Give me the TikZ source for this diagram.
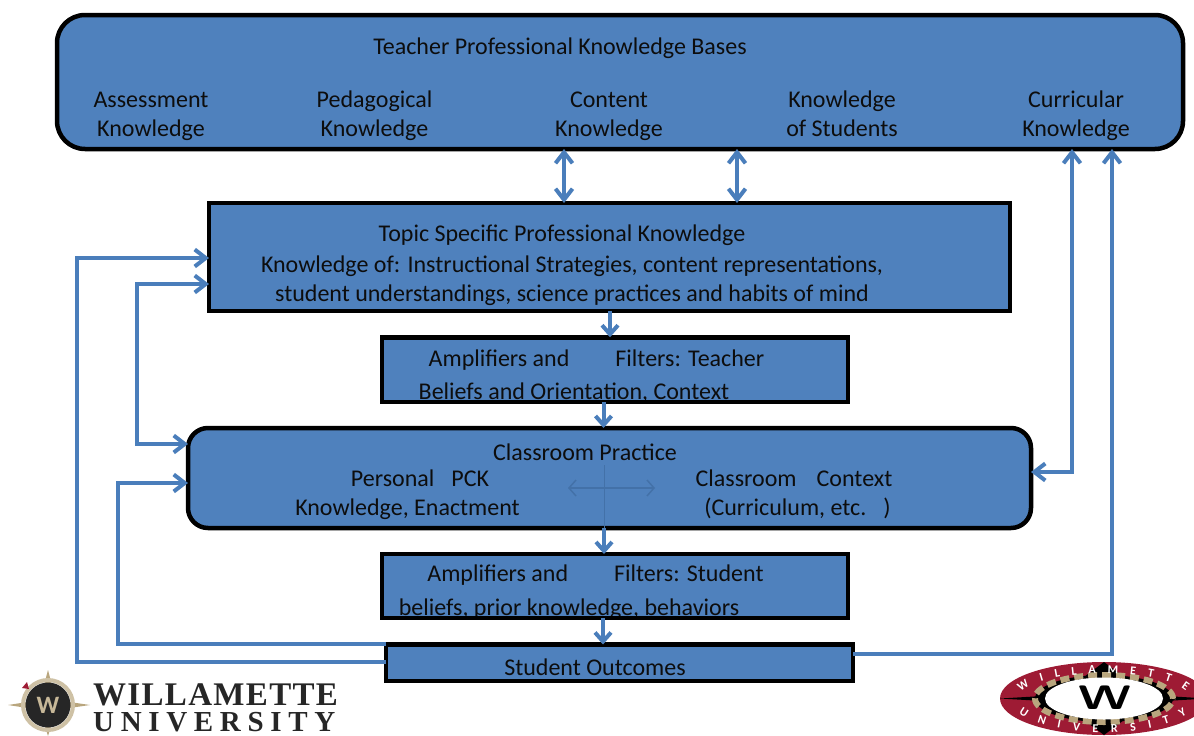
\documentclass[tikz,border=0pt]{standalone}
\usepackage{fontspec}
\setmainfont{Carlito}
\newfontfamily\wufont{Liberation Serif}
\usetikzlibrary{arrows.meta, shapes.geometric, decorations.text}
\definecolor{boxblue}{HTML}{4F81BD}
\definecolor{linkblue}{HTML}{4A7EBB}
\definecolor{wured}{HTML}{9E1B34}
\definecolor{wutan}{HTML}{B9A67E}
\tikzstyle{base} = [rectangle, draw=black, line width=4.5pt, fill=boxblue, inner sep=0pt, outer sep=0pt]
\tikzstyle{rbase} = [base, rounded corners=20pt]
\tikzstyle{txt} = [align=center, inner sep=0pt, text=black!95, font=\fontsize{24}{29}\selectfont, execute at begin node=\strut, execute at end node=\strut]
\tikzstyle{edge} = [draw=black, line width=4.5pt]
\tikzstyle{line} = [draw=linkblue, line width=4pt, -{Straight Barb[length=11pt,width=17pt]}]
\tikzstyle{dbl} = [line, {Straight Barb[length=11pt,width=17pt]}-{Straight Barb[length=11pt,width=17pt]}]
\tikzstyle{short} = [line, -{Straight Barb[length=9pt,width=16pt]}]

\begin{document}
\begin{tikzpicture}[x=1pt,y=-1pt]
  \useasboundingbox (0,0) rectangle (1194,736);
  % boxes
  \node (topbase) [rbase, rounded corners=28pt, minimum width=1126pt, minimum height=134pt] at (620,82) {};
  \node (tsk) [base, minimum width=801pt, minimum height=108pt] at (609.5,257) {};
  \node (ampa) [base, minimum width=466pt, minimum height=64.5pt] at (615,369.5) {};
  \node (practice) [rbase, minimum width=843pt, minimum height=100pt] at (609.5,478) {};
  \node (ampb) [base, minimum width=466pt, minimum height=64pt] at (615,586) {};
  \node (outcomes) [base, minimum width=467pt, minimum height=36.5pt] at (619.5,662.75) {};

  % texts
  \node (toptitle) [txt] at (560,49) {Teacher Professional Knowledge Bases};
  \node (assess) [txt] at (151,118.5) {Assessment\\Knowledge};
  \node (pedag) [txt] at (374.5,118.5) {Pedagogical\\Knowledge};
  \node (content) [txt] at (609,118.5) {Content\\Knowledge};
  \node (students) [txt] at (842,118.5) {Knowledge\\of Students};
  \node (curric) [txt] at (1076,118.5) {Curricular\\Knowledge};
  \node (tsktitle) [txt] at (562,236) {Topic Specific Professional Knowledge};
  \node (tsktext) [txt] at (572,283) {Knowledge of: Instructional Strategies, content representations,\\student understandings, science practices and habits of mind};
  \node (ampatext) [txt] at (596.5,360.2) {Amplifiers and\hspace{46pt}Filters: Teacher};
  \node (ampaline) [txt] at (574,393.5) {Beliefs and Orientation, Context};
  \node (practitle) [txt] at (585,454.5) {Classroom Practice};
  \node (pck) [txt] at (420,481) {Personal\hspace{17pt}PCK};
  \node (enact) [txt] at (407.5,510) {Knowledge, Enactment};
  \node (context) [txt] at (794,481) {Classroom\hspace{20pt}Context};
  \node (curriculum) [txt] at (797.5,510) {(Curriculum, etc.\hspace{17pt})};
  \node (ampbtext) [txt] at (595.5,575.5) {Amplifiers and\hspace{46pt}Filters: Student};
  \node (ampbline) [txt] at (569,610) {beliefs, prior knowledge, behaviors};
  \node (outtext) [txt] at (595,670) {Student Outcomes};

  % these two lines run under the lower edge of their box
  \draw [edge] (ampa.south west) -- (ampa.south east);
  \draw [edge] (ampb.south west) -- (ampb.south east);

  % faint cross inside classroom box
  \coordinate (crossl) at (568,488);
  \coordinate (crossr) at (655,488);
  \coordinate (crosst) at (604,465);
  \draw [draw=linkblue!90!black, line width=1.5pt, {Straight Barb[length=7pt,width=16pt]}-{Straight Barb[length=7pt,width=16pt]}] (crossl) -- (crossr);
  \draw [draw=linkblue!90!black, line width=1pt] (crosst) -- (crosst |- practice.south);

  % connectors
  \coordinate (axa) at (564,180);
  \coordinate (axb) at (737,180);
  \coordinate (axc) at (1072,300);
  \coordinate (axd) at (1112,300);
  \coordinate (axe) at (610,325);
  \coordinate (axf) at (603.5,415);
  \coordinate (axg) at (604,540);
  \coordinate (axh) at (603,632);
  \coordinate (axi) at (77,258);
  \coordinate (axj) at (118,483);
  \coordinate (axk) at (137,284);
  \coordinate (axl) at (137,444);
  \coordinate (axm) at (1072,472);
  \coordinate (axn) at (1112,654);
  \coordinate (axo) at (118,644);
  \coordinate (axp) at (77,662);
  \draw [dbl] (axa |- topbase.south) -- (axa |- tsk.north);
  \draw [dbl] (axb |- topbase.south) -- (axb |- tsk.north);
  \draw [dbl] (axc |- topbase.south) -- (axm) -- (axm -| practice.east);
  \draw [line] (axn -| outcomes.east) -- (axn) -- (axd |- topbase.south);
  \draw [short] (axe |- tsk.south) -- (axe |- ampa.north);
  \draw [short] (axf |- ampa.south) -- (axf |- practice.north);
  \draw [short] (axg |- practice.south) -- (axg |- ampb.north);
  \draw [short] (axh |- ampb.south) -- (axh |- outcomes.north);
  \draw [line] (axp -| outcomes.west) -- (axp) -- (axi) -- (axi -| tsk.west);
  \draw [line] (axo -| outcomes.west) -- (axo) -- (axj) -- (axj -| practice.west);
  \draw [dbl] (axk -| tsk.west) -- (axk) -- (axl) -- (axl -| practice.west);

  % left logo
  \coordinate (compass) at (48,705);
  \fill [wutan] (8,705) -- (40,700) -- (48,670) -- (56,700) -- (90,705) -- (56,710) -- (48,736) -- (40,710) -- cycle;
  \draw [wutan!70!white, line width=4pt] (compass) circle (25pt);
  \node (seal) [circle, fill=black!85, minimum size=45pt, inner sep=0pt] at (compass) {};
  \node (sealw) [text=wutan!80!white, font=\fontsize{25}{25}\selectfont\bfseries, inner sep=0pt] at (compass) {W};
  \fill [wured] (22,688) -- (27,682) -- (29,689) -- cycle;
  \node (wulogoa) [anchor=base west, inner sep=0pt, text=black!85, font=\fontsize{33}{33}\selectfont\wufont\bfseries\addfontfeature{LetterSpace=4}] at (93,705) {WILLAMETTE};
  \node (wulogob) [anchor=base west, inner sep=0pt, text=black!85, font=\fontsize{29}{29}\selectfont\wufont\bfseries\addfontfeature{LetterSpace=23}] at (93,731) {UNIVERSITY};

  % right logo
  \begin{scope}
    \clip (990,655) rectangle (1194,736);
    \coordinate (emblem) at (1104,698.5);
    \node (rim) [ellipse, fill=wured, minimum width=208pt, minimum height=73pt, inner sep=0pt] at (emblem) {};
    \fill [black] (1000,698.5) -- (1060,695) -- (1104,662) -- (1148,695) -- (1208,698.5) -- (1148,702) -- (1104,735) -- (1060,702) -- cycle;
    \node (ring) [ellipse, draw=wutan, dash pattern=on 9pt off 5pt, line width=6pt, fill=black, minimum width=138pt, minimum height=47pt, inner sep=0pt] at (emblem) {};
    \node (hole) [ellipse, fill=white, minimum width=118pt, minimum height=42pt, inner sep=0pt] at (emblem) {};
    \node (emblemw) [inner sep=0pt, xscale=1.5, font=\fontsize{34}{34}\selectfont\sffamily\bfseries] at (1105,698) {W};
    \path [shift={(emblem)}, decorate, decoration={text along path, text align=fit to path, text={|\fontsize{12}{12}\selectfont\bfseries\color{white}|WILLAMETTE}}] (195:86 and 25) arc[start angle=195, end angle=342, x radius=86, y radius=25];
    \path [shift={(emblem)}, decorate, decoration={text along path, text align=fit to path, text={|\fontsize{12}{12}\selectfont\bfseries\color{white}|UNIVERSITY}}] (155:94 and 34) arc[start angle=155, end angle=28, x radius=94, y radius=34];
  \end{scope}
\end{tikzpicture}
\end{document}
